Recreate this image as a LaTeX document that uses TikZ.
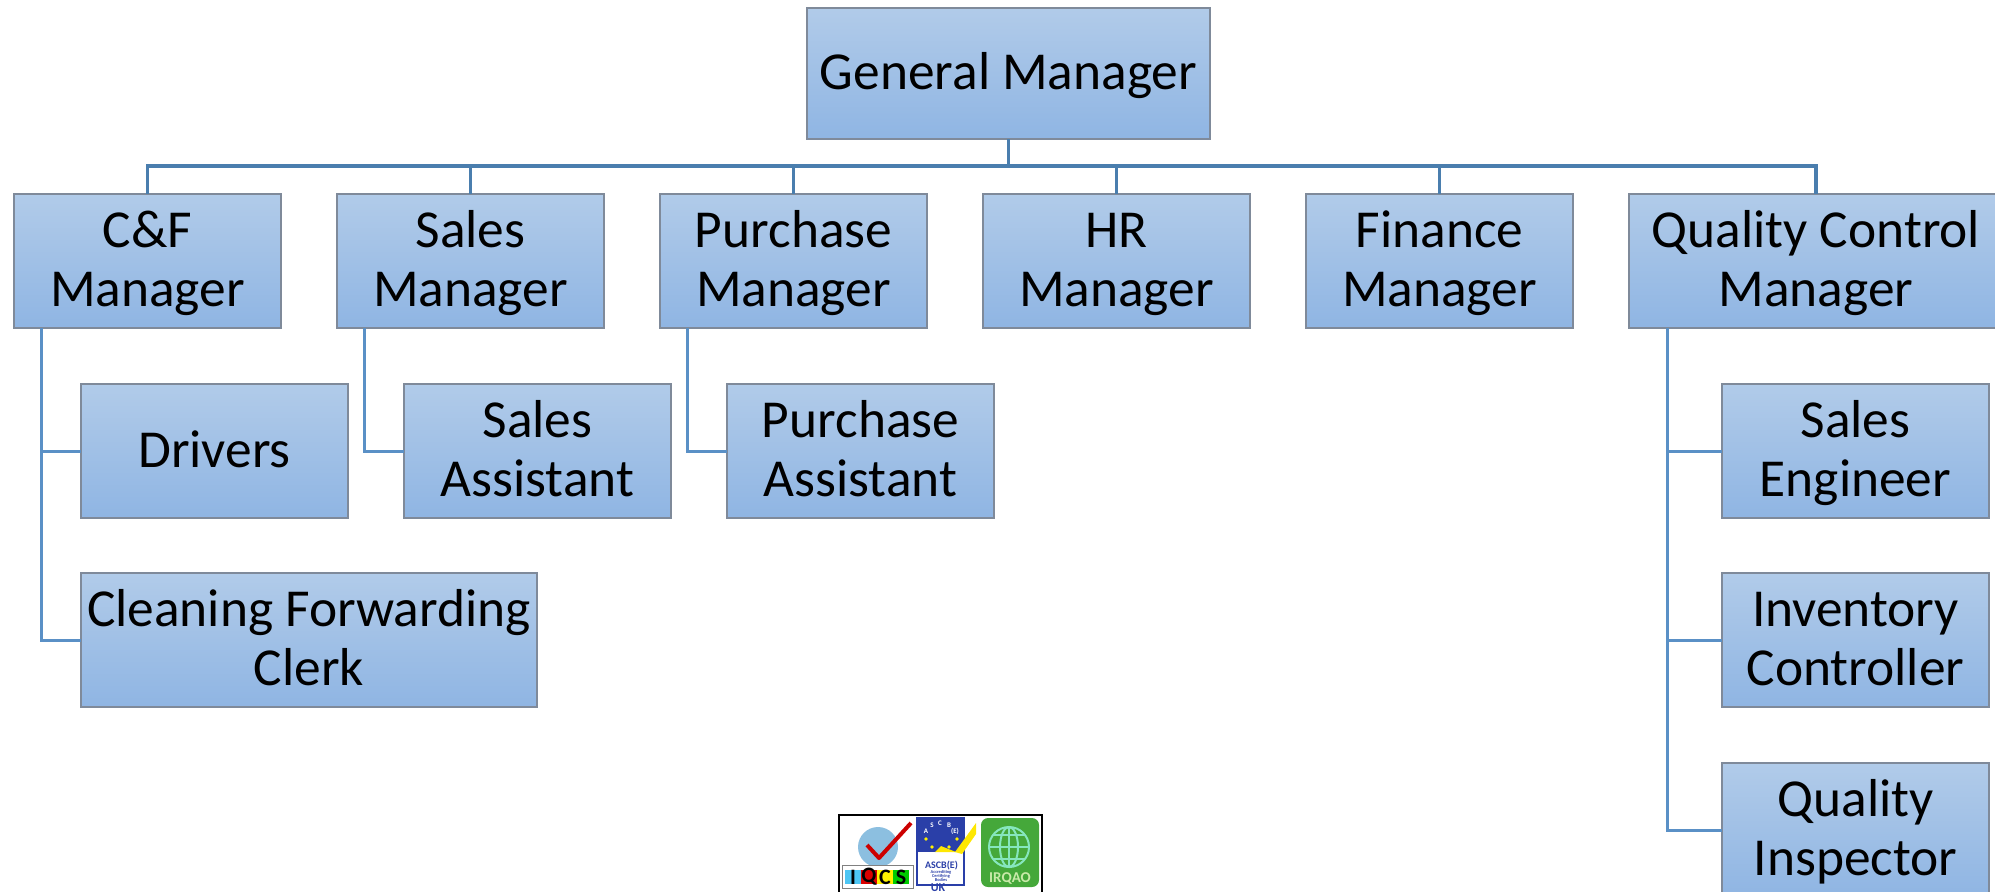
\documentclass[tikz,border=0pt]{standalone}
\usepackage{fontspec}
\setmainfont{Carlito}
\usetikzlibrary{positioning,calc,shapes.geometric}
\definecolor{boxtop}{HTML}{B1CBE9}
\definecolor{boxbot}{HTML}{8FB5E3}
\definecolor{boxedge}{HTML}{7F8A9A}
\definecolor{busline}{HTML}{4A7EAE}
\definecolor{kidline}{HTML}{5A90C6}
\definecolor{ascbblue}{HTML}{2A3FA8}
\definecolor{irqgreen}{HTML}{45A83A}
\definecolor{irqline}{HTML}{86E6BE}
\definecolor{globeblue}{HTML}{8CBFE0}
\newcommand{\boxstrut}{\rule[-6pt]{0pt}{28pt}}
\newcommand{\pairstrut}{\rule[-6pt]{0pt}{57.2pt}}
\begin{document}
\begin{tikzpicture}
[x=0.5pt, y=-0.5pt,
 mgr/.style={ draw=boxedge, line width=1pt, top color=boxtop, bottom color=boxbot, align=center,
    minimum width=133.5pt, minimum height=67pt, inner sep=0pt, outer sep=0pt,
    font=\fontsize{26.7}{29.3}\selectfont,
    execute at begin node=\boxstrut },
 pair/.style={ mgr, execute at begin node=\pairstrut },
 bus/.style={ draw=busline, line width=1.55pt },
 kid/.style={ draw=kidline, line width=1.5pt },
 logotxt/.style={ inner sep=0pt, font=\fontsize{#1}{#1}\selectfont\bfseries },
 globeline/.style={ draw=irqline, line width=1pt }
]
\useasboundingbox (0,0) rectangle (1995,891);

\node[mgr, minimum width=201.5pt, minimum height=65.5pt] (gm) at (1008.5,73.5) {General Manager};
\node[pair] (cf) at (147.5,261) {C\&F\\Manager};
\node[pair, right=28pt of cf] (sales) {Sales\\Manager};
\node[pair, right=28pt of sales] (purch) {Purchase\\Manager};
\node[pair, right=28pt of purch] (hr) {HR\\Manager};
\node[pair, right=28pt of hr] (fin) {Finance\\Manager};
\node[pair, right=28pt of fin, minimum width=187pt] (qc) {Quality Control\\Manager};

\node[mgr, anchor=north west] (drivers) at ([xshift=33.5pt,yshift=-28pt]cf.south west) {Drivers};
\node[pair, anchor=north west, minimum width=228pt] (clean) at ([yshift=-27.5pt]drivers.south west) {Cleaning Forwarding\\Clerk};
\node[pair, anchor=north west] (salesast) at ([xshift=33.5pt,yshift=-28pt]sales.south west) {Sales\\Assistant};
\node[pair, anchor=north west] (purchast) at ([xshift=33.5pt,yshift=-28pt]purch.south west) {Purchase\\Assistant};
\node[pair, anchor=north west] (engineer) at ([xshift=46.5pt,yshift=-28pt]qc.south west) {Sales\\Engineer};
\node[pair, anchor=north west] (invent) at ([yshift=-27.5pt]engineer.south west) {Inventory\\Controller};
\node[pair, anchor=north west] (inspect) at ([yshift=-28pt]invent.south west) {Quality\\Inspector};

\coordinate (busmid) at ([yshift=-13.5pt]gm.south);
\coordinate (cftrunk) at ([xshift=13.5pt]cf.south west);
\coordinate (salestrunk) at ([xshift=13.5pt]sales.south west);
\coordinate (purchtrunk) at ([xshift=13.5pt]purch.south west);
\coordinate (qctrunk) at ([xshift=19pt]qc.south west);

\draw[bus, line width=1.7pt] (gm.south) -- (busmid);
\foreach \a in {cf,sales,purch,hr,fin,qc}{
    \draw[bus] (busmid) -| (\a.north);
}
\foreach \a in {drivers,clean}{
    \draw[kid] (cftrunk) |- (\a.west);
}
\draw[kid] (salestrunk) |- (salesast.west);
\draw[kid] (purchtrunk) |- (purchast.west);
\foreach \a in {engineer,invent,inspect}{
    \draw[kid] (qctrunk) |- (\a.west);
}

% logo strip
\draw[black, line width=0.6pt] (839,900) -- (839,815) -- (1042,815) -- (1042,900);
% left badge
\fill[globeblue] (878,847) circle (20);
\draw[red!80!black, line width=2pt, line join=round] (867,845) -- (879,858) -- (911,823);
\draw[gray, fill=white, line width=0.4pt] (842,865) rectangle (913,888);
\fill[cyan!70] (845,870) rectangle (861,884);
\fill[red!85!black] (861,870) rectangle (877,884);
\fill[yellow] (877,870) rectangle (893,884);
\fill[green!80!black] (893,870) rectangle (909,884);
\node[logotxt=11] (iqcsi) at (853,877) {I};
\node[logotxt=11] (iqcsq) at (869,877) {Q};
\node[logotxt=11] (iqcsc) at (885,877) {C};
\node[logotxt=11] (iqcss) at (901,877) {S};
% middle badge
\draw[ascbblue, fill=white, line width=0.6pt] (917,818) rectangle (964,885);
\fill[ascbblue] (918,819) rectangle (963,852);
\foreach \x/\y in {926/839,957/839,932/847,949/847}{
    \fill[yellow] (\x,\y) circle (1.8);
}
\node[logotxt=3.5, text=white] (la) at (926,831) {A};
\node[logotxt=3.5, text=white] (ls) at (932,825) {S};
\node[logotxt=3.5, text=white] (lc) at (940,823) {C};
\node[logotxt=3.5, text=white] (lb) at (949,825) {B};
\node[logotxt=3.5, text=white] (le) at (955,831) {(E)};
\fill[yellow!90!orange] (941,846) -- (956,852) -- (935,852) -- cycle;
\fill[yellow!90!orange] (955,852) -- (976,823) -- (976,834) -- (962,854) -- cycle;
\node[logotxt=5, text=ascbblue] (ascb) at (941.5,866) {ASCB(E)};
\node[logotxt=2.2, text=ascbblue, align=center] (ascbsub) at (941,876) {Accrediting\\Certifying\\Bodies};
\node[logotxt=6, text=ascbblue] (uk) at (938,888) {UK};
% right badge
\fill[irqgreen, rounded corners=3.5pt] (981,818) rectangle (1039,887);
\draw[globeline] (1009,847) circle (20);
\draw[globeline] (1009,847) ellipse (9 and 20);
\draw[globeline] (1009,827) -- (1009,867);
\draw[globeline] (989,847) -- (1029,847);
\draw[globeline] (993,835) -- (1025,835);
\draw[globeline] (993,859) -- (1025,859);
\node[logotxt=7.5, text=yellow!40!green!35!white] (irqao) at (1010,879) {IRQAO};
\end{tikzpicture}
\end{document}
